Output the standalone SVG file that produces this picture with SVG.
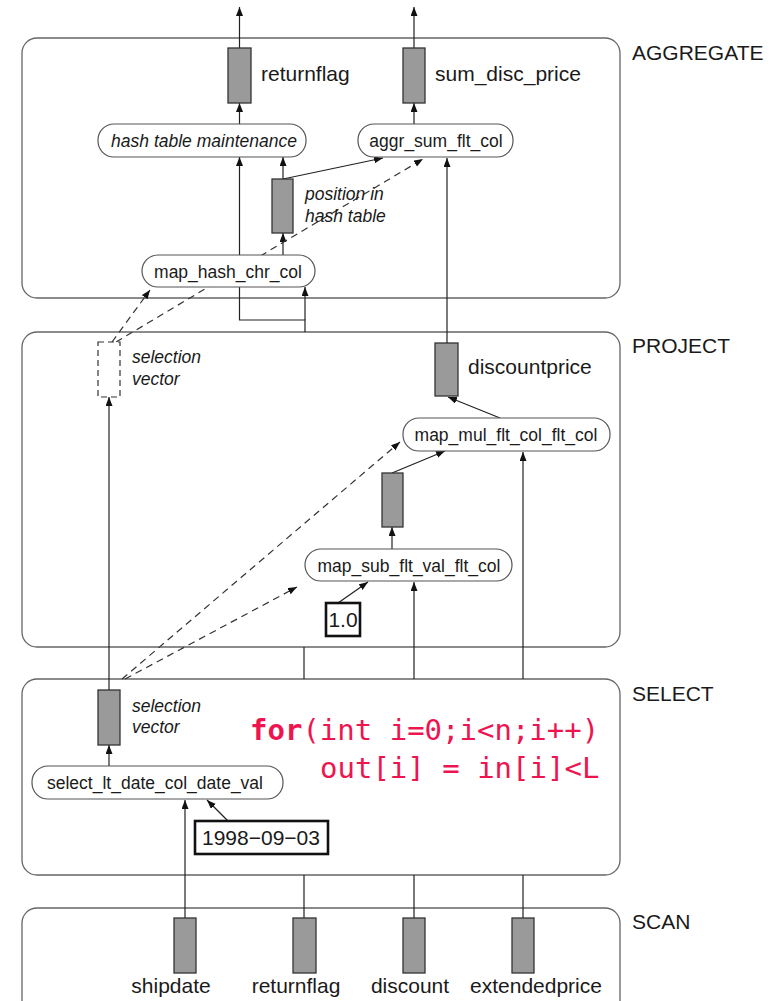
<svg xmlns="http://www.w3.org/2000/svg" width="777" height="1001" viewBox="0 0 777 1001">
<style>
.box{fill:#fff;stroke:#666;stroke-width:1.3}
.col{fill:#9a9a9a;stroke:#333;stroke-width:1.3}
.pill{fill:#fff;stroke:#555;stroke-width:1.2}
.c{fill:none;stroke:#222;stroke-width:1.2}
.d{fill:none;stroke:#333;stroke-width:1.2;stroke-dasharray:7,5}
.a{marker-end:url(#ah)}
.lbl{font-family:"Liberation Sans",Arial,sans-serif;font-size:21px;fill:#1a1a1a}
.nt{font-family:"Liberation Sans",Arial,sans-serif;font-size:17.5px;fill:#1a1a1a}
.it{font-family:"Liberation Sans",Arial,sans-serif;font-size:17.5px;font-style:italic;fill:#1a1a1a}
.code{font-family:"DejaVu Sans Mono","Liberation Mono",monospace;font-size:29px;fill:#ee1450}
.cst{fill:#fff;stroke:#111;stroke-width:2.6}
</style>
<defs>
<marker id="ah" markerUnits="userSpaceOnUse" markerWidth="10" markerHeight="8" refX="9" refY="3.5" orient="auto">
<path d="M0,0 L9,3.5 L0,7 z" fill="#111"/>
</marker>
</defs>
<g id="sections">
<rect class="box" x="22" y="38" width="598" height="260" rx="15"/>
<rect class="box" x="22" y="332" width="598" height="315" rx="15"/>
<rect class="box" x="22" y="679" width="598" height="196" rx="15"/>
<rect class="box" x="22" y="908" width="598" height="110" rx="15"/>
<text class="lbl" x="632" y="60">AGGREGATE</text>
<text class="lbl" x="632" y="353">PROJECT</text>
<text class="lbl" x="632" y="701">SELECT</text>
<text class="lbl" x="632" y="929">SCAN</text>
</g>
<g id="connectors">
<path class="c a" d="M239.5,48 V7"/>
<path class="c a" d="M414,48 V7"/>
<path class="c a" d="M239.5,124 V103"/>
<path class="c a" d="M414,124 V103"/>
<path class="c" d="M305,332 V320 H239.5 V287"/>
<path class="c a" d="M239.5,255 V157"/>
<path class="c a" d="M305,320 V287"/>
<path class="c a" d="M283,255 V233"/>
<path class="c a" d="M283,179 V157"/>
<path class="c a" d="M283,179 L383,158"/>
<path class="d a" d="M112,342 L150,290"/>
<path class="d a" d="M116,342 L423,159"/>
<path class="c a" d="M447,343 V158"/>
<path class="c a" d="M500,418 L448,397"/>
<path class="c a" d="M392,473 L445,451"/>
<path class="c a" d="M392,549 V527"/>
<path class="c a" d="M338,603 L368,582"/>
<path class="c a" d="M414,679 V582"/>
<path class="c a" d="M523,679 V452"/>
<path class="c a" d="M109,690 V397"/>
<path class="d a" d="M122,679 L400,442"/>
<path class="d a" d="M125,679 L297,587"/>
<path class="c" d="M304,647 V679"/>
<path class="c" d="M304,875 V918 M414,875 V918 M523,875 V918"/>
<path class="c a" d="M109,766 V745"/>
<path class="c a" d="M185,918 V800"/>
<path class="c a" d="M228,821 L207,800"/>
</g>
<g id="agg-returnflag">
<rect class="col" x="228" y="48" width="23" height="55"/>
<text class="lbl" x="261" y="81">returnflag</text>
</g>
<g id="agg-sum_disc_price">
<rect class="col" x="403" y="48" width="22" height="55"/>
<text class="lbl" x="435" y="81">sum_disc_price</text>
</g>
<g id="hash-table-maintenance">
<rect class="pill" x="98" y="124" width="208" height="33" rx="16"/>
<text class="it" x="204" y="147" text-anchor="middle">hash table maintenance</text>
</g>
<g id="aggr_sum_flt_col">
<rect class="pill" x="358" y="124" width="155" height="33" rx="16"/>
<text class="nt" x="436" y="147" text-anchor="middle">aggr_sum_flt_col</text>
</g>
<g id="position-in-hash-table">
<rect class="col" x="272" y="179" width="21" height="54"/>
<text class="it" x="305" y="200">position in</text>
<text class="it" x="305" y="222">hash table</text>
</g>
<g id="map_hash_chr_col">
<rect class="pill" x="142" y="255" width="173" height="32" rx="16"/>
<text class="nt" x="228" y="278" text-anchor="middle">map_hash_chr_col</text>
</g>
<g id="project-selection-vector">
<rect x="98" y="342" width="22" height="55" fill="#fff" stroke="#333" stroke-width="1.2" stroke-dasharray="6,4"/>
<text class="it" x="132" y="363">selection</text>
<text class="it" x="132" y="385">vector</text>
</g>
<g id="discountprice">
<rect class="col" x="435" y="343" width="23" height="53"/>
<text class="lbl" x="468" y="374">discountprice</text>
</g>
<g id="map_mul_flt_col_flt_col">
<rect class="pill" x="403" y="418" width="207" height="33" rx="16"/>
<text class="nt" x="506" y="441" text-anchor="middle">map_mul_flt_col_flt_col</text>
</g>
<g id="project-temp">
<rect class="col" x="382" y="473" width="21" height="54"/>
</g>
<g id="map_sub_flt_val_flt_col">
<rect class="pill" x="305" y="549" width="207" height="32" rx="16"/>
<text class="nt" x="409" y="572" text-anchor="middle">map_sub_flt_val_flt_col</text>
</g>
<g id="const-1.0">
<rect class="cst" x="326" y="603" width="34" height="33"/>
<text class="lbl" x="343" y="627" text-anchor="middle">1.0</text>
</g>
<g id="select-selection-vector">
<rect class="col" x="98" y="690" width="22" height="55"/>
<text class="it" x="132" y="712">selection</text>
<text class="it" x="132" y="733">vector</text>
</g>
<g id="select_lt_date_col_date_val">
<rect class="pill" x="32" y="766" width="251" height="33" rx="16"/>
<text class="nt" x="155" y="789" text-anchor="middle">select_lt_date_col_date_val</text>
</g>
<g id="const-date">
<rect class="cst" x="195" y="821" width="133" height="33"/>
<text class="lbl" x="261" y="845" text-anchor="middle">1998−09−03</text>
</g>
<g id="code">
<text class="code" x="250" y="740"><tspan font-weight="bold">for</tspan>(int i=0;i&lt;n;i++)</text>
<text class="code" x="320" y="778">out[i] = in[i]&lt;L</text>
</g>
<g id="scan-shipdate">
<rect class="col" x="174" y="918" width="22" height="55"/>
<text class="lbl" x="171" y="993" text-anchor="middle">shipdate</text>
</g>
<g id="scan-returnflag">
<rect class="col" x="293" y="918" width="23" height="55"/>
<text class="lbl" x="296" y="993" text-anchor="middle">returnflag</text>
</g>
<g id="scan-discount">
<rect class="col" x="403" y="918" width="22" height="55"/>
<text class="lbl" x="410" y="993" text-anchor="middle">discount</text>
</g>
<g id="scan-extendedprice">
<rect class="col" x="512" y="918" width="22" height="55"/>
<text class="lbl" x="536" y="993" text-anchor="middle">extendedprice</text>
</g>
</svg>
